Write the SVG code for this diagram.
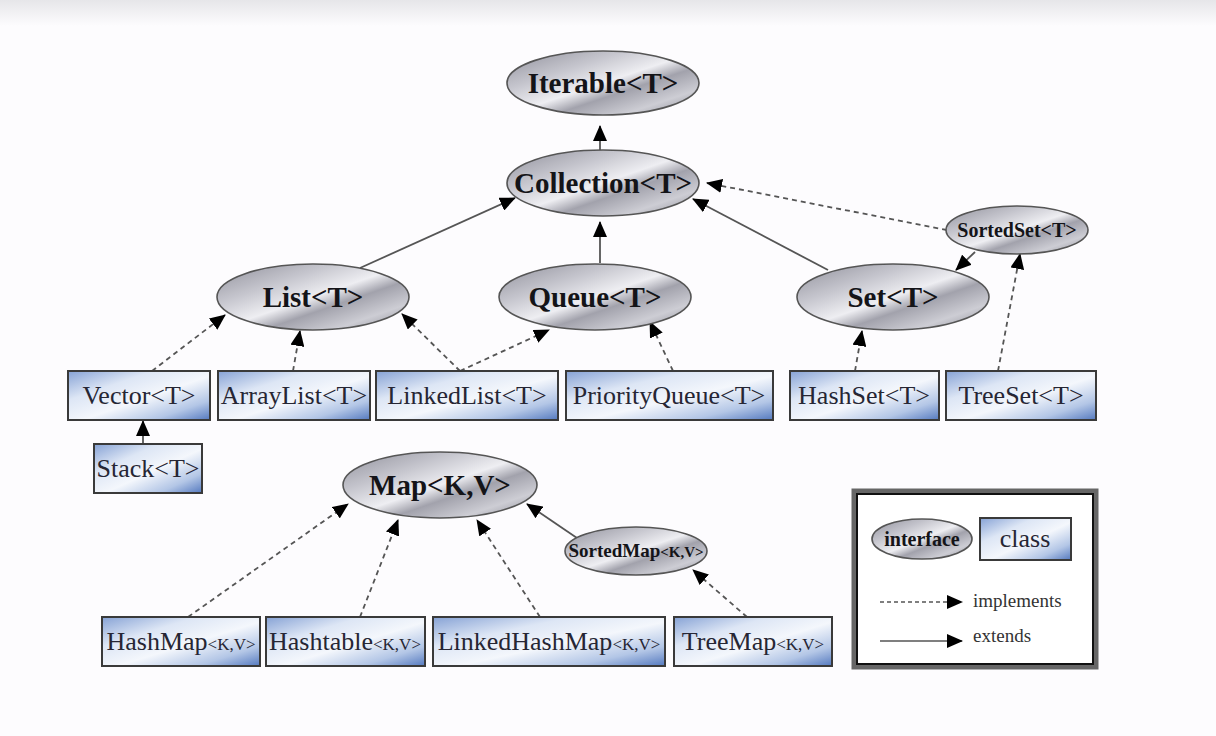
<svg xmlns="http://www.w3.org/2000/svg" width="1216" height="736" viewBox="0 0 1216 736">
<defs>
<linearGradient id="topbg" x1="0" y1="0" x2="0" y2="1">
<stop offset="0" stop-color="#e6e6e9"/><stop offset="1" stop-color="#fdfcfe"/>
</linearGradient>
<linearGradient id="metal" x1="0" y1="0" x2="1" y2="1">
<stop offset="0" stop-color="#8f8f9a"/>
<stop offset="0.3" stop-color="#c6c6ce"/>
<stop offset="0.5" stop-color="#eeeef2"/>
<stop offset="0.62" stop-color="#a2a2ac"/>
<stop offset="0.8" stop-color="#cdcdd4"/>
<stop offset="1" stop-color="#85858f"/>
</linearGradient>
<linearGradient id="blue" x1="0" y1="0" x2="1" y2="1">
<stop offset="0" stop-color="#86a2d5"/>
<stop offset="0.3" stop-color="#dde6f5"/>
<stop offset="0.55" stop-color="#f4f7fc"/>
<stop offset="0.8" stop-color="#b3c6e6"/>
<stop offset="1" stop-color="#5479bf"/>
</linearGradient>
<marker id="ah" markerUnits="userSpaceOnUse" markerWidth="16" markerHeight="14" viewBox="0 0 16 14" refX="15" refY="7" orient="auto">
<path d="M0,0 L16,7 L0,14 Z" fill="#000"/>
</marker>
<style>
.ell{fill:url(#metal);stroke:#555;stroke-width:1.6}
.box{fill:url(#blue);stroke:#3a3a3a;stroke-width:2}
.it{font-family:"Liberation Serif",serif;font-weight:bold;fill:#141418;text-anchor:middle}
.ct{font-family:"Liberation Serif",serif;fill:#262634;text-anchor:middle;font-size:26px}
.sm{font-size:17px}
.solid{stroke:#555;stroke-width:1.8;fill:none;marker-end:url(#ah)}
.dash{stroke:#555;stroke-width:1.8;fill:none;stroke-dasharray:5,4;marker-end:url(#ah)}
.lg{font-family:"Liberation Serif",serif;fill:#333;font-size:19px}
</style>
</defs>
<rect x="0" y="0" width="1216" height="736" fill="#fdfcfe"/>
<rect x="0" y="0" width="1216" height="26" fill="url(#topbg)"/>

<g id="connectors">
<line class="solid" x1="600" y1="150" x2="600" y2="126"/>
<line class="solid" x1="360" y1="268" x2="515" y2="198"/>
<line class="solid" x1="600" y1="263" x2="600" y2="222"/>
<line class="solid" x1="828" y1="270" x2="693" y2="199"/>
<line class="dash" x1="947" y1="230" x2="707" y2="183"/>
<line class="solid" x1="975" y1="252" x2="956" y2="270"/>
<line class="dash" x1="152" y1="371" x2="225" y2="315"/>
<line class="dash" x1="293" y1="371" x2="300" y2="331"/>
<line class="dash" x1="460" y1="371" x2="402" y2="314"/>
<line class="dash" x1="460" y1="371" x2="549" y2="330"/>
<line class="dash" x1="673" y1="371" x2="650" y2="322"/>
<line class="dash" x1="855" y1="371" x2="862" y2="331"/>
<line class="dash" x1="998" y1="371" x2="1020" y2="254"/>
<line class="solid" x1="143" y1="444" x2="143" y2="421"/>
<line class="dash" x1="188" y1="617" x2="348" y2="504"/>
<line class="dash" x1="360" y1="617" x2="398" y2="520"/>
<line class="dash" x1="540" y1="617" x2="477" y2="520"/>
<line class="solid" x1="577" y1="538" x2="527" y2="504"/>
<line class="dash" x1="747" y1="617" x2="693" y2="570"/>
</g>

<g id="iterable"><ellipse class="ell" cx="603" cy="83" rx="96" ry="32"/><text class="it" x="603" y="93" font-size="29">Iterable&lt;T&gt;</text></g>
<g id="collection"><ellipse class="ell" cx="603" cy="183" rx="96" ry="33"/><text class="it" x="603" y="193" font-size="29">Collection&lt;T&gt;</text></g>
<g id="list"><ellipse class="ell" cx="313" cy="297" rx="96" ry="33"/><text class="it" x="313" y="307" font-size="29">List&lt;T&gt;</text></g>
<g id="queue"><ellipse class="ell" cx="595" cy="297" rx="96" ry="33"/><text class="it" x="595" y="307" font-size="29">Queue&lt;T&gt;</text></g>
<g id="set"><ellipse class="ell" cx="893" cy="297" rx="96" ry="33"/><text class="it" x="893" y="307" font-size="29">Set&lt;T&gt;</text></g>
<g id="sortedset"><ellipse class="ell" cx="1017" cy="230" rx="71" ry="24"/><text class="it" x="1017" y="237" font-size="20">SortedSet&lt;T&gt;</text></g>
<g id="map"><ellipse class="ell" cx="440" cy="485" rx="97" ry="33"/><text class="it" x="440" y="495" font-size="29">Map&lt;K,V&gt;</text></g>
<g id="sortedmap"><ellipse class="ell" cx="636" cy="551" rx="71" ry="24"/><text class="it" x="636" y="557" font-size="19">SortedMap<tspan font-size="15">&lt;K,V&gt;</tspan></text></g>

<g id="vector"><rect class="box" x="68" y="371" width="142" height="49"/><text class="ct" x="139" y="404">Vector&lt;T&gt;</text></g>
<g id="arraylist"><rect class="box" x="218" y="371" width="152" height="49"/><text class="ct" x="294" y="404">ArrayList&lt;T&gt;</text></g>
<g id="linkedlist"><rect class="box" x="376" y="371" width="182" height="49"/><text class="ct" x="467" y="404">LinkedList&lt;T&gt;</text></g>
<g id="priorityqueue"><rect class="box" x="566" y="371" width="207" height="49"/><text class="ct" x="669" y="404">PriorityQueue&lt;T&gt;</text></g>
<g id="hashset"><rect class="box" x="790" y="371" width="149" height="49"/><text class="ct" x="864" y="404">HashSet&lt;T&gt;</text></g>
<g id="treeset"><rect class="box" x="946" y="371" width="150" height="49"/><text class="ct" x="1021" y="404">TreeSet&lt;T&gt;</text></g>
<g id="stack"><rect class="box" x="94" y="444" width="108" height="49"/><text class="ct" x="148" y="477">Stack&lt;T&gt;</text></g>
<g id="hashmap"><rect class="box" x="102" y="617" width="158" height="49"/><text class="ct" x="181" y="650">HashMap<tspan class="sm">&lt;K,V&gt;</tspan></text></g>
<g id="hashtable"><rect class="box" x="266" y="617" width="159" height="49"/><text class="ct" x="345" y="650">Hashtable<tspan class="sm">&lt;K,V&gt;</tspan></text></g>
<g id="linkedhashmap"><rect class="box" x="433" y="617" width="232" height="49"/><text class="ct" x="549" y="650">LinkedHashMap<tspan class="sm">&lt;K,V&gt;</tspan></text></g>
<g id="treemap"><rect class="box" x="674" y="617" width="158" height="49"/><text class="ct" x="753" y="650">TreeMap<tspan class="sm">&lt;K,V&gt;</tspan></text></g>

<g id="legend">
<rect x="854" y="491" width="242" height="176" fill="#fff" stroke="#666" stroke-width="5"/>
<rect x="857" y="494" width="236" height="170" fill="none" stroke="#111" stroke-width="2"/>
<ellipse class="ell" cx="922" cy="539" rx="50" ry="20"/>
<text class="it" x="922" y="546" font-size="20">interface</text>
<rect class="box" x="980" y="518" width="91" height="42"/>
<text class="ct" x="1025" y="547">class</text>
<line x1="880" y1="602" x2="962" y2="602" stroke="#555" stroke-width="1.5" stroke-dasharray="4,3" marker-end="url(#ah)"/>
<text class="lg" x="973" y="607">implements</text>
<line x1="880" y1="641" x2="962" y2="641" stroke="#555" stroke-width="1.5" marker-end="url(#ah)"/>
<text class="lg" x="973" y="642">extends</text>
</g>
</svg>
